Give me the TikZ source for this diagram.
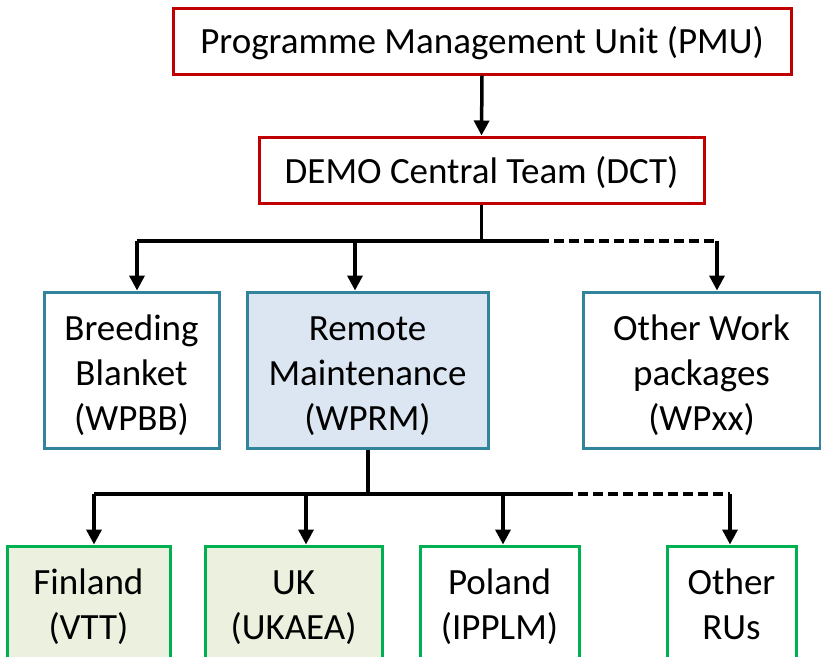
\documentclass[tikz,border=0pt]{standalone}
\usepackage{fontspec}
\setmainfont{Carlito}
\usetikzlibrary{arrows.meta,positioning}
\definecolor{mgmtred}{HTML}{C00000}
\definecolor{wpteal}{HTML}{31849B}
\definecolor{wpfill}{HTML}{DCE6F2}
\definecolor{rugreen}{HTML}{00B050}
\definecolor{rufill}{HTML}{EBF1DE}

\begin{document}
\begin{tikzpicture}[x=1pt, y=1pt,
    box/.style={draw, line width=3pt, align=center, inner sep=0pt,
        font=\fontsize{37}{45}\selectfont,
        execute at end node={\rule[-10pt]{0pt}{10pt}}},
    mgmt/.style={box, draw=mgmtred, minimum height=66pt},
    wp/.style={box, draw=wpteal, minimum height=156pt},
    ru/.style={box, draw=rugreen, minimum height=120pt},
    link/.style={line width=3.5pt, black},
    tip/.style={link, -{Triangle[length=15pt, width=15pt]}},
    maybe/.style={link, dash pattern=on 10pt off 5pt}]
    \useasboundingbox (0,0) rectangle (821,-656);
    \clip (0,0) rectangle (821,-656);

    % Gestione
    \node[mgmt, minimum width=618pt] (pmu) at (482,-41) {\rule{0pt}{35pt}Programme Management Unit (PMU)};
    \node[mgmt, minimum width=445pt] (dct) at (481.5,-170) {\rule{0pt}{36pt}DEMO Central Team (DCT)};
    \draw[tip] (pmu.south) -- (dct.north);

    % Work packages
    \node[wp, minimum width=175pt] (wpbb) at (131.5,-370) {\rule{0pt}{41pt}Breeding\\Blanket\\(WPBB)};
    \node[wp, minimum width=241pt, fill=wpfill] (wprm) at (367.5,-370) {\rule{0pt}{41pt}Remote\\Maintenance\\(WPRM)};
    \node[wp, minimum width=237pt] (wpxx) at (701.5,-370) {\rule{0pt}{41pt}Other Work\\packages\\(WPxx)};

    \coordinate (busA) at (481.5,-241);
    \coordinate (busAl) at (137,-241);
    \coordinate (busAm) at (355,-241);
    \coordinate (busAd) at (539,-241);
    \coordinate (busAr) at (717,-241);
    \draw[link] (dct.south) -- (busA);
    \draw[link] (busAl) -- (busAd);
    \draw[maybe] (busAd) -- (busAr);
    \draw[tip] (busAl) -- (busAl |- wpbb.north);
    \draw[tip] (busAm) -- (busAm |- wprm.north);
    \draw[tip] (busAr) -- (busAr |- wpxx.north);

    % Research units
    \node[ru, minimum width=163pt, fill=rufill] (vtt) at (88.5,-606) {\rule{0pt}{32pt}Finland\\(VTT)};
    \node[ru, minimum width=177pt, fill=rufill] (ukaea) at (293.5,-606) {\rule{0pt}{32pt}UK\\(UKAEA)};
    \node[ru, minimum width=159pt] (ipplm) at (499.5,-606) {\rule{0pt}{32pt}Poland\\(IPPLM)};
    \node[ru, minimum width=129pt] (others) at (731.5,-606) {\rule{0pt}{32pt}Other\\RUs};

    \coordinate (busB) at (368,-494);
    \coordinate (busBl) at (94,-494);
    \coordinate (busBa) at (306,-494);
    \coordinate (busBb) at (503,-494);
    \coordinate (busBd) at (563,-494);
    \coordinate (busBr) at (730,-494);
    \draw[link] (wprm.south -| busB) -- (busB);
    \draw[link] (busBl) -- (busBd);
    \draw[maybe] (busBd) -- (busBr);
    \draw[tip] (busBl) -- (busBl |- vtt.north);
    \draw[tip] (busBa) -- (busBa |- ukaea.north);
    \draw[tip] (busBb) -- (busBb |- ipplm.north);
    \draw[tip] (busBr) -- (busBr |- others.north);
\end{tikzpicture}
\end{document}
